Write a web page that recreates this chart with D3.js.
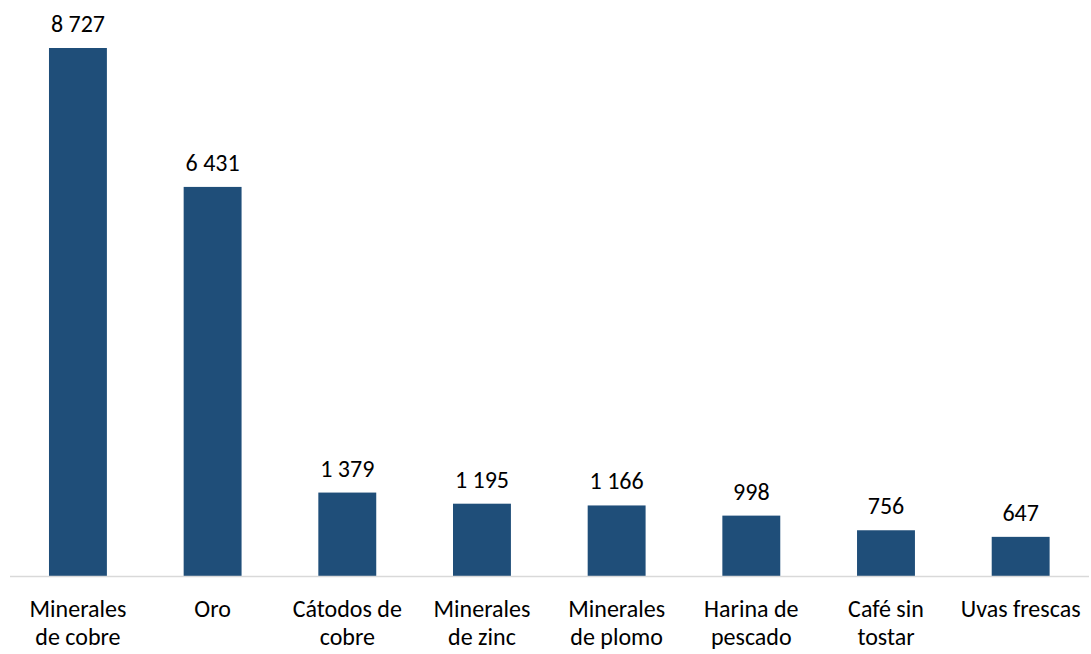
<!DOCTYPE html>
<html>
<head>
<meta charset="utf-8">
<script src="https://cdn.jsdelivr.net/npm/d3@7"></script>
<style>
  body { margin: 0; background: #fff; }
  svg text { font-family: Carlito, Lato, "Liberation Sans", sans-serif; fill: #000; }
</style>
</head>
<body>
<div id="chart"></div>
<script>
// productos y valores
const categories = [
  ["Minerales", "de cobre"],
  ["Oro"],
  ["Cátodos de", "cobre"],
  ["Minerales", "de zinc"],
  ["Minerales", "de plomo"],
  ["Harina de", "pescado"],
  ["Café sin", "tostar"],
  ["Uvas frescas"]
];
const values = [8727, 6431, 1379, 1195, 1166, 998, 756, 647];

const width = 1091, height = 654;
const baseY = 576;

const svg = d3.select("#chart").append("svg")
  .attr("width", width)
  .attr("height", height);

const x = d3.scaleBand()
  .domain(d3.range(values.length))
  .range([10.6, 1088])
  .paddingInner(0.57)
  .paddingOuter(0.285);

const y = d3.scaleLinear()
  .domain([0, 8727])
  .range([baseY, 48]);

// barras
svg.append("g")
  .selectAll("rect")
  .data(values)
  .join("rect")
  .attr("x", (d, i) => x(i))
  .attr("y", d => y(d))
  .attr("width", x.bandwidth())
  .attr("height", d => baseY - y(d))
  .attr("fill", "#1F4E79");

// eje
svg.append("line")
  .attr("x1", 10).attr("x2", 1089)
  .attr("y1", baseY + 0.5).attr("y2", baseY + 0.5)
  .attr("stroke", "#d9d9d9")
  .attr("stroke-width", 1.5);

// etiquetas de valores
const fmt = d => d3.format(",")(d).replace(/,/g, " ");
svg.append("g")
  .selectAll("text")
  .data(values)
  .join("text")
  .attr("x", (d, i) => x(i) + x.bandwidth() / 2)
  .attr("y", d => y(d) - 16)
  .attr("text-anchor", "middle")
  .attr("font-size", "24px")
  .text(fmt);

// categorias
const cat = svg.append("g")
  .selectAll("text")
  .data(categories)
  .join("text")
  .attr("text-anchor", "middle")
  .attr("font-size", "24px")
  .attr("transform", (d, i) => `translate(${x(i) + x.bandwidth() / 2},617)`);
cat.selectAll("tspan")
  .data(d => d)
  .join("tspan")
  .attr("x", 0)
  .attr("y", (d, i) => i * 28)
  .text(d => d);
</script>
</body>
</html>
